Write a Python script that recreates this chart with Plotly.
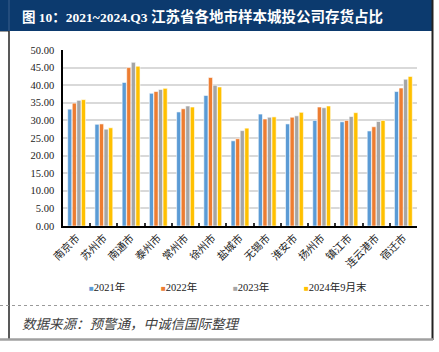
import plotly.graph_objects as go

cities = ["南京市", "苏州市", "南通市", "泰州市", "常州市", "徐州市", "盐城市",
          "无锡市", "淮安市", "扬州市", "镇江市", "连云港市", "宿迁市"]
v2021 = [33.2, 28.9, 40.8, 37.7, 32.4, 37.1, 24.2, 31.8, 29.0, 30.0, 29.6, 27.0, 38.2]
v2022 = [34.9, 29.0, 45.0, 38.2, 33.3, 42.2, 24.8, 30.4, 30.9, 33.8, 30.0, 28.2, 39.2]
v2023 = [35.7, 27.5, 46.5, 38.8, 34.1, 40.0, 27.1, 30.9, 31.3, 33.6, 31.1, 29.7, 41.7]
v2024q3 = [35.9, 27.9, 45.4, 39.1, 33.8, 39.5, 27.8, 31.0, 32.3, 34.1, 32.2, 30.0, 42.5]
series_names = ["2021年", "2022年", "2023年", "2024年9月末"]
series_vals = [v2021, v2022, v2023, v2024q3]
colors = ["#5B9BD5", "#ED7D31", "#A5A5A5", "#FFC000"]
y_ticks = [0, 5, 10, 15, 20, 25, 30, 35, 40, 45, 50]

W, H = 439, 352
L, R, T, B = 63, 22, 50, 126
PW, PH = W - L - R, H - T - B


def PX(x):
    return (x - L) / PW


def PY(y):
    return (H - B - y) / PH


fig = go.Figure()
for name, vals, c in zip(series_names, series_vals, colors):
    fig.add_trace(go.Bar(x=cities, y=vals, name=name, marker_color=c,
                         marker_line=dict(color="white", width=0.6),
                         showlegend=False))

serif = "Liberation Serif, Times New Roman, Noto Sans CJK SC"
cjk = "Noto Sans CJK SC"

shapes = [
    # header bar
    dict(type="rect", xref="paper", yref="paper", x0=PX(0), x1=PX(432), y0=PY(0), y1=PY(31),
         fillcolor="#0C3A6E", line=dict(width=0), layer="below"),
    dict(type="line", xref="paper", yref="paper", x0=PX(9), x1=PX(9), y0=PY(0), y1=PY(31),
         line=dict(color="#3A5F8C", width=1)),
    dict(type="line", xref="paper", yref="paper", x0=PX(0), x1=PX(9), y0=PY(31.5), y1=PY(31.5),
         line=dict(color="#9A9A9A", width=1)),
    # frame
    dict(type="line", xref="paper", yref="paper", x0=PX(9), x1=PX(9), y0=PY(31), y1=PY(340),
         line=dict(color="#222222", width=1.5)),
    dict(type="line", xref="paper", yref="paper", x0=PX(432.5), x1=PX(432.5), y0=PY(0), y1=PY(340),
         line=dict(color="#222222", width=2)),
    dict(type="line", xref="paper", yref="paper", x0=PX(0), x1=PX(433), y0=PY(339.5), y1=PY(339.5),
         line=dict(color="#A0A0A0", width=2.5)),
    dict(type="line", xref="paper", yref="paper", x0=PX(0), x1=PX(432), y0=PY(305.5), y1=PY(305.5),
         line=dict(color="#9A9A9A", width=1, dash="dot")),
]

annotations = [
    dict(text='<b>图 10：2021~2024.Q3 <span style="font-size:14.5px">江苏省各地市样本城投公司存货占比</span></b>',
         xref="paper", yref="paper",
         x=PX(20), y=PY(16), xanchor="left", yanchor="middle", showarrow=False,
         font=dict(family=serif, size=13.5, color="white")),
    dict(text="数据来源：预警通，中诚信国际整理", xref="paper", yref="paper",
         x=PX(20), y=PY(323), xanchor="left", yanchor="middle", showarrow=False,
         font=dict(family=cjk, size=13.5, color="#404040", style="italic")),
]

leg_x = [87, 159, 231, 302]
for name, c, lx in zip(series_names, colors, leg_x):
    annotations.append(dict(
        text=f'<span style="color:{c};font-size:8px">■</span>{name}',
        xref="paper", yref="paper", x=PX(lx), y=PY(287), xanchor="left", yanchor="middle",
        showarrow=False, font=dict(family=serif, size=10.5, color="#222222")))

fig.update_layout(
    width=W, height=H,
    margin=dict(l=L, r=R, t=T, b=B),
    paper_bgcolor="white", plot_bgcolor="white",
    barmode="group", bargap=0.33, bargroupgap=0.08,
    shapes=shapes, annotations=annotations,
    showlegend=False,
    xaxis=dict(showline=True, linecolor="black", linewidth=1.5,
               tickson="boundaries", ticks="inside", ticklen=3, tickwidth=2, tickcolor="#333333",
               tickangle=-45, tickfont=dict(family=cjk, size=10.5, color="#222222"),
               showgrid=False, fixedrange=True),
    yaxis=dict(range=[0, 50], tickvals=y_ticks, tickformat=".2f", ticksuffix="%",
               showline=True, linecolor="black", linewidth=1.5,
               showgrid=True, gridcolor="#D9D9D9", gridwidth=1.5,
               ticks="outside", ticklen=5, tickcolor="rgba(0,0,0,0)",
               tickfont=dict(family=serif, size=10.5, color="#222222"),
               zeroline=False, fixedrange=True),
)

fig.write_html("out.html", config={"displayModeBar": False})
